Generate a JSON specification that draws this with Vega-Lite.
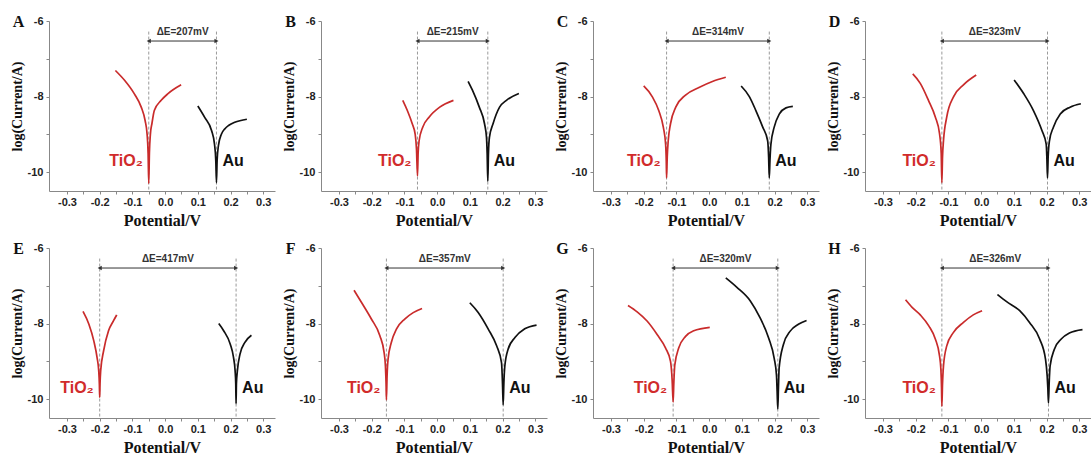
{
"$schema":"https://vega.github.io/schema/vega-lite/v6.json",
"padding":{"left":10,"top":14,"right":0,"bottom":0},
"data":{"values":[
{"k":"c","p":"A","m":"TiO2","E":-0.152,"L":-7.31},{"k":"c","p":"A","m":"TiO2","E":-0.124,"L":-7.57},{"k":"c","p":"A","m":"TiO2","E":-0.094,"L":-7.93},{"k":"c","p":"A","m":"TiO2","E":-0.073,"L":-8.28},{"k":"c","p":"A","m":"TiO2","E":-0.061,"L":-8.64},{"k":"c","p":"A","m":"TiO2","E":-0.055,"L":-9.0},{"k":"c","p":"A","m":"TiO2","E":-0.052,"L":-9.5},{"k":"c","p":"A","m":"TiO2","E":-0.05,"L":-10.3},{"k":"c","p":"A","m":"TiO2","E":-0.048,"L":-9.5},{"k":"c","p":"A","m":"TiO2","E":-0.045,"L":-9.0},{"k":"c","p":"A","m":"TiO2","E":-0.04,"L":-8.7},{"k":"c","p":"A","m":"TiO2","E":-0.033,"L":-8.37},{"k":"c","p":"A","m":"TiO2","E":-0.012,"L":-8.1},{"k":"c","p":"A","m":"TiO2","E":0.008,"L":-7.93},{"k":"c","p":"A","m":"TiO2","E":0.049,"L":-7.69},
{"k":"c","p":"A","m":"Au","E":0.1,"L":-8.25},{"k":"c","p":"A","m":"Au","E":0.121,"L":-8.55},{"k":"c","p":"A","m":"Au","E":0.142,"L":-8.9},{"k":"c","p":"A","m":"Au","E":0.151,"L":-9.26},{"k":"c","p":"A","m":"Au","E":0.155,"L":-9.7},{"k":"c","p":"A","m":"Au","E":0.157,"L":-10.28},{"k":"c","p":"A","m":"Au","E":0.159,"L":-9.7},{"k":"c","p":"A","m":"Au","E":0.163,"L":-9.3},{"k":"c","p":"A","m":"Au","E":0.172,"L":-9.0},{"k":"c","p":"A","m":"Au","E":0.183,"L":-8.85},{"k":"c","p":"A","m":"Au","E":0.195,"L":-8.76},{"k":"c","p":"A","m":"Au","E":0.213,"L":-8.68},{"k":"c","p":"A","m":"Au","E":0.25,"L":-8.6},
{"k":"c","p":"B","m":"TiO2","E":-0.105,"L":-8.1},{"k":"c","p":"B","m":"TiO2","E":-0.091,"L":-8.37},{"k":"c","p":"B","m":"TiO2","E":-0.076,"L":-8.72},{"k":"c","p":"B","m":"TiO2","E":-0.067,"L":-9.0},{"k":"c","p":"B","m":"TiO2","E":-0.063,"L":-9.4},{"k":"c","p":"B","m":"TiO2","E":-0.06,"L":-10.1},{"k":"c","p":"B","m":"TiO2","E":-0.058,"L":-9.5},{"k":"c","p":"B","m":"TiO2","E":-0.055,"L":-9.17},{"k":"c","p":"B","m":"TiO2","E":-0.044,"L":-8.81},{"k":"c","p":"B","m":"TiO2","E":-0.024,"L":-8.54},{"k":"c","p":"B","m":"TiO2","E":0.008,"L":-8.28},{"k":"c","p":"B","m":"TiO2","E":0.05,"L":-8.1},
{"k":"c","p":"B","m":"Au","E":0.095,"L":-7.6},{"k":"c","p":"B","m":"Au","E":0.108,"L":-7.83},{"k":"c","p":"B","m":"Au","E":0.129,"L":-8.28},{"k":"c","p":"B","m":"Au","E":0.145,"L":-8.72},{"k":"c","p":"B","m":"Au","E":0.151,"L":-9.08},{"k":"c","p":"B","m":"Au","E":0.153,"L":-9.5},{"k":"c","p":"B","m":"Au","E":0.155,"L":-10.24},{"k":"c","p":"B","m":"Au","E":0.157,"L":-9.5},{"k":"c","p":"B","m":"Au","E":0.16,"L":-9.08},{"k":"c","p":"B","m":"Au","E":0.171,"L":-8.72},{"k":"c","p":"B","m":"Au","E":0.191,"L":-8.28},{"k":"c","p":"B","m":"Au","E":0.212,"L":-8.1},{"k":"c","p":"B","m":"Au","E":0.25,"L":-7.92},
{"k":"c","p":"C","m":"TiO2","E":-0.2,"L":-7.72},{"k":"c","p":"C","m":"TiO2","E":-0.174,"L":-8.0},{"k":"c","p":"C","m":"TiO2","E":-0.154,"L":-8.37},{"k":"c","p":"C","m":"TiO2","E":-0.14,"L":-8.81},{"k":"c","p":"C","m":"TiO2","E":-0.133,"L":-9.26},{"k":"c","p":"C","m":"TiO2","E":-0.131,"L":-9.7},{"k":"c","p":"C","m":"TiO2","E":-0.13,"L":-10.15},{"k":"c","p":"C","m":"TiO2","E":-0.128,"L":-9.6},{"k":"c","p":"C","m":"TiO2","E":-0.125,"L":-9.17},{"k":"c","p":"C","m":"TiO2","E":-0.118,"L":-8.72},{"k":"c","p":"C","m":"TiO2","E":-0.102,"L":-8.28},{"k":"c","p":"C","m":"TiO2","E":-0.072,"L":-7.96},{"k":"c","p":"C","m":"TiO2","E":-0.031,"L":-7.76},{"k":"c","p":"C","m":"TiO2","E":0.01,"L":-7.6},{"k":"c","p":"C","m":"TiO2","E":0.051,"L":-7.49},
{"k":"c","p":"C","m":"Au","E":0.098,"L":-7.72},{"k":"c","p":"C","m":"Au","E":0.123,"L":-8.0},{"k":"c","p":"C","m":"Au","E":0.143,"L":-8.37},{"k":"c","p":"C","m":"Au","E":0.164,"L":-8.81},{"k":"c","p":"C","m":"Au","E":0.179,"L":-9.17},{"k":"c","p":"C","m":"Au","E":0.182,"L":-9.6},{"k":"c","p":"C","m":"Au","E":0.184,"L":-10.15},{"k":"c","p":"C","m":"Au","E":0.186,"L":-9.7},{"k":"c","p":"C","m":"Au","E":0.189,"L":-9.26},{"k":"c","p":"C","m":"Au","E":0.199,"L":-8.81},{"k":"c","p":"C","m":"Au","E":0.215,"L":-8.46},{"k":"c","p":"C","m":"Au","E":0.235,"L":-8.3},{"k":"c","p":"C","m":"Au","E":0.256,"L":-8.26},
{"k":"c","p":"D","m":"TiO2","E":-0.209,"L":-7.4},{"k":"c","p":"D","m":"TiO2","E":-0.186,"L":-7.65},{"k":"c","p":"D","m":"TiO2","E":-0.161,"L":-8.1},{"k":"c","p":"D","m":"TiO2","E":-0.14,"L":-8.54},{"k":"c","p":"D","m":"TiO2","E":-0.127,"L":-8.99},{"k":"c","p":"D","m":"TiO2","E":-0.122,"L":-9.5},{"k":"c","p":"D","m":"TiO2","E":-0.12,"L":-10.28},{"k":"c","p":"D","m":"TiO2","E":-0.118,"L":-9.6},{"k":"c","p":"D","m":"TiO2","E":-0.115,"L":-9.17},{"k":"c","p":"D","m":"TiO2","E":-0.105,"L":-8.54},{"k":"c","p":"D","m":"TiO2","E":-0.084,"L":-8.0},{"k":"c","p":"D","m":"TiO2","E":-0.054,"L":-7.69},{"k":"c","p":"D","m":"TiO2","E":-0.015,"L":-7.43},
{"k":"c","p":"D","m":"Au","E":0.101,"L":-7.56},{"k":"c","p":"D","m":"Au","E":0.13,"L":-7.92},{"k":"c","p":"D","m":"Au","E":0.16,"L":-8.37},{"k":"c","p":"D","m":"Au","E":0.186,"L":-8.9},{"k":"c","p":"D","m":"Au","E":0.199,"L":-9.26},{"k":"c","p":"D","m":"Au","E":0.201,"L":-9.6},{"k":"c","p":"D","m":"Au","E":0.203,"L":-10.15},{"k":"c","p":"D","m":"Au","E":0.205,"L":-9.6},{"k":"c","p":"D","m":"Au","E":0.209,"L":-9.17},{"k":"c","p":"D","m":"Au","E":0.221,"L":-8.81},{"k":"c","p":"D","m":"Au","E":0.242,"L":-8.46},{"k":"c","p":"D","m":"Au","E":0.272,"L":-8.28},{"k":"c","p":"D","m":"Au","E":0.305,"L":-8.19},
{"k":"c","p":"E","m":"TiO2","E":-0.251,"L":-7.68},{"k":"c","p":"E","m":"TiO2","E":-0.233,"L":-8.02},{"k":"c","p":"E","m":"TiO2","E":-0.218,"L":-8.46},{"k":"c","p":"E","m":"TiO2","E":-0.208,"L":-8.9},{"k":"c","p":"E","m":"TiO2","E":-0.203,"L":-9.25},{"k":"c","p":"E","m":"TiO2","E":-0.201,"L":-9.6},{"k":"c","p":"E","m":"TiO2","E":-0.2,"L":-9.95},{"k":"c","p":"E","m":"TiO2","E":-0.199,"L":-9.6},{"k":"c","p":"E","m":"TiO2","E":-0.197,"L":-9.25},{"k":"c","p":"E","m":"TiO2","E":-0.188,"L":-8.72},{"k":"c","p":"E","m":"TiO2","E":-0.173,"L":-8.19},{"k":"c","p":"E","m":"TiO2","E":-0.158,"L":-7.93},{"k":"c","p":"E","m":"TiO2","E":-0.148,"L":-7.77},
{"k":"c","p":"E","m":"Au","E":0.164,"L":-8.0},{"k":"c","p":"E","m":"Au","E":0.179,"L":-8.19},{"k":"c","p":"E","m":"Au","E":0.199,"L":-8.54},{"k":"c","p":"E","m":"Au","E":0.209,"L":-8.89},{"k":"c","p":"E","m":"Au","E":0.214,"L":-9.25},{"k":"c","p":"E","m":"Au","E":0.216,"L":-9.6},{"k":"c","p":"E","m":"Au","E":0.217,"L":-10.12},{"k":"c","p":"E","m":"Au","E":0.218,"L":-9.6},{"k":"c","p":"E","m":"Au","E":0.221,"L":-9.25},{"k":"c","p":"E","m":"Au","E":0.229,"L":-8.81},{"k":"c","p":"E","m":"Au","E":0.244,"L":-8.5},{"k":"c","p":"E","m":"Au","E":0.264,"L":-8.31},
{"k":"c","p":"F","m":"TiO2","E":-0.254,"L":-7.12},{"k":"c","p":"F","m":"TiO2","E":-0.232,"L":-7.43},{"k":"c","p":"F","m":"TiO2","E":-0.201,"L":-7.88},{"k":"c","p":"F","m":"TiO2","E":-0.175,"L":-8.32},{"k":"c","p":"F","m":"TiO2","E":-0.162,"L":-8.77},{"k":"c","p":"F","m":"TiO2","E":-0.158,"L":-9.13},{"k":"c","p":"F","m":"TiO2","E":-0.156,"L":-9.6},{"k":"c","p":"F","m":"TiO2","E":-0.155,"L":-10.02},{"k":"c","p":"F","m":"TiO2","E":-0.153,"L":-9.4},{"k":"c","p":"F","m":"TiO2","E":-0.15,"L":-8.95},{"k":"c","p":"F","m":"TiO2","E":-0.14,"L":-8.5},{"k":"c","p":"F","m":"TiO2","E":-0.124,"L":-8.14},{"k":"c","p":"F","m":"TiO2","E":-0.099,"L":-7.88},{"k":"c","p":"F","m":"TiO2","E":-0.073,"L":-7.71},{"k":"c","p":"F","m":"TiO2","E":-0.046,"L":-7.6},
{"k":"c","p":"F","m":"Au","E":0.1,"L":-7.45},{"k":"c","p":"F","m":"Au","E":0.125,"L":-7.7},{"k":"c","p":"F","m":"Au","E":0.156,"L":-8.14},{"k":"c","p":"F","m":"Au","E":0.182,"L":-8.59},{"k":"c","p":"F","m":"Au","E":0.197,"L":-9.04},{"k":"c","p":"F","m":"Au","E":0.2,"L":-9.6},{"k":"c","p":"F","m":"Au","E":0.202,"L":-10.15},{"k":"c","p":"F","m":"Au","E":0.204,"L":-9.6},{"k":"c","p":"F","m":"Au","E":0.207,"L":-9.13},{"k":"c","p":"F","m":"Au","E":0.217,"L":-8.68},{"k":"c","p":"F","m":"Au","E":0.238,"L":-8.37},{"k":"c","p":"F","m":"Au","E":0.268,"L":-8.14},{"k":"c","p":"F","m":"Au","E":0.304,"L":-8.04},
{"k":"c","p":"G","m":"TiO2","E":-0.248,"L":-7.52},{"k":"c","p":"G","m":"TiO2","E":-0.22,"L":-7.69},{"k":"c","p":"G","m":"TiO2","E":-0.189,"L":-7.94},{"k":"c","p":"G","m":"TiO2","E":-0.159,"L":-8.29},{"k":"c","p":"G","m":"TiO2","E":-0.133,"L":-8.65},{"k":"c","p":"G","m":"TiO2","E":-0.118,"L":-9.0},{"k":"c","p":"G","m":"TiO2","E":-0.113,"L":-9.5},{"k":"c","p":"G","m":"TiO2","E":-0.11,"L":-10.08},{"k":"c","p":"G","m":"TiO2","E":-0.108,"L":-9.6},{"k":"c","p":"G","m":"TiO2","E":-0.105,"L":-9.1},{"k":"c","p":"G","m":"TiO2","E":-0.093,"L":-8.65},{"k":"c","p":"G","m":"TiO2","E":-0.072,"L":-8.34},{"k":"c","p":"G","m":"TiO2","E":-0.047,"L":-8.19},{"k":"c","p":"G","m":"TiO2","E":0.002,"L":-8.1},
{"k":"c","p":"G","m":"Au","E":0.051,"L":-6.79},{"k":"c","p":"G","m":"Au","E":0.085,"L":-7.04},{"k":"c","p":"G","m":"Au","E":0.126,"L":-7.4},{"k":"c","p":"G","m":"Au","E":0.156,"L":-7.85},{"k":"c","p":"G","m":"Au","E":0.182,"L":-8.38},{"k":"c","p":"G","m":"Au","E":0.199,"L":-8.92},{"k":"c","p":"G","m":"Au","E":0.206,"L":-9.37},{"k":"c","p":"G","m":"Au","E":0.208,"L":-9.8},{"k":"c","p":"G","m":"Au","E":0.21,"L":-10.26},{"k":"c","p":"G","m":"Au","E":0.212,"L":-9.7},{"k":"c","p":"G","m":"Au","E":0.214,"L":-9.19},{"k":"c","p":"G","m":"Au","E":0.227,"L":-8.56},{"k":"c","p":"G","m":"Au","E":0.248,"L":-8.2},{"k":"c","p":"G","m":"Au","E":0.273,"L":-8.02},{"k":"c","p":"G","m":"Au","E":0.298,"L":-7.92},
{"k":"c","p":"H","m":"TiO2","E":-0.231,"L":-7.37},{"k":"c","p":"H","m":"TiO2","E":-0.211,"L":-7.57},{"k":"c","p":"H","m":"TiO2","E":-0.186,"L":-7.77},{"k":"c","p":"H","m":"TiO2","E":-0.16,"L":-8.06},{"k":"c","p":"H","m":"TiO2","E":-0.14,"L":-8.41},{"k":"c","p":"H","m":"TiO2","E":-0.127,"L":-8.86},{"k":"c","p":"H","m":"TiO2","E":-0.123,"L":-9.21},{"k":"c","p":"H","m":"TiO2","E":-0.121,"L":-9.7},{"k":"c","p":"H","m":"TiO2","E":-0.12,"L":-10.19},{"k":"c","p":"H","m":"TiO2","E":-0.118,"L":-9.6},{"k":"c","p":"H","m":"TiO2","E":-0.115,"L":-9.12},{"k":"c","p":"H","m":"TiO2","E":-0.105,"L":-8.59},{"k":"c","p":"H","m":"TiO2","E":-0.085,"L":-8.24},{"k":"c","p":"H","m":"TiO2","E":-0.054,"L":-7.97},{"k":"c","p":"H","m":"TiO2","E":-0.024,"L":-7.77},{"k":"c","p":"H","m":"TiO2","E":0.003,"L":-7.66},
{"k":"c","p":"H","m":"Au","E":0.05,"L":-7.23},{"k":"c","p":"H","m":"Au","E":0.078,"L":-7.42},{"k":"c","p":"H","m":"Au","E":0.118,"L":-7.66},{"k":"c","p":"H","m":"Au","E":0.148,"L":-7.97},{"k":"c","p":"H","m":"Au","E":0.179,"L":-8.41},{"k":"c","p":"H","m":"Au","E":0.197,"L":-8.95},{"k":"c","p":"H","m":"Au","E":0.202,"L":-9.39},{"k":"c","p":"H","m":"Au","E":0.204,"L":-9.7},{"k":"c","p":"H","m":"Au","E":0.206,"L":-10.1},{"k":"c","p":"H","m":"Au","E":0.208,"L":-9.6},{"k":"c","p":"H","m":"Au","E":0.211,"L":-9.12},{"k":"c","p":"H","m":"Au","E":0.224,"L":-8.68},{"k":"c","p":"H","m":"Au","E":0.245,"L":-8.41},{"k":"c","p":"H","m":"Au","E":0.27,"L":-8.25},{"k":"c","p":"H","m":"Au","E":0.31,"L":-8.16},
{"k":"e","p":"A","m":"TiO2","E":-0.05,"t":"TiO₂","d":"ΔE=207mV"},{"k":"e","p":"A","m":"Au","E":0.157,"t":"Au","d":"ΔE=207mV"},
{"k":"e","p":"B","m":"TiO2","E":-0.06,"t":"TiO₂","d":"ΔE=215mV"},{"k":"e","p":"B","m":"Au","E":0.155,"t":"Au","d":"ΔE=215mV"},
{"k":"e","p":"C","m":"TiO2","E":-0.13,"t":"TiO₂","d":"ΔE=314mV"},{"k":"e","p":"C","m":"Au","E":0.184,"t":"Au","d":"ΔE=314mV"},
{"k":"e","p":"D","m":"TiO2","E":-0.12,"t":"TiO₂","d":"ΔE=323mV"},{"k":"e","p":"D","m":"Au","E":0.203,"t":"Au","d":"ΔE=323mV"},
{"k":"e","p":"E","m":"TiO2","E":-0.2,"t":"TiO₂","d":"ΔE=417mV"},{"k":"e","p":"E","m":"Au","E":0.217,"t":"Au","d":"ΔE=417mV"},
{"k":"e","p":"F","m":"TiO2","E":-0.155,"t":"TiO₂","d":"ΔE=357mV"},{"k":"e","p":"F","m":"Au","E":0.202,"t":"Au","d":"ΔE=357mV"},
{"k":"e","p":"G","m":"TiO2","E":-0.11,"t":"TiO₂","d":"ΔE=320mV"},{"k":"e","p":"G","m":"Au","E":0.21,"t":"Au","d":"ΔE=320mV"},
{"k":"e","p":"H","m":"TiO2","E":-0.12,"t":"TiO₂","d":"ΔE=326mV"},{"k":"e","p":"H","m":"Au","E":0.206,"t":"Au","d":"ΔE=326mV"}
]},
"columns":4,
"bounds":"flush",
"spacing":{"row":57,"column":46},
"concat":[
{"width":226,"height":170,"transform":[{"filter":"datum.p=='A'"}],"layer":[
{"transform":[{"filter":"datum.k=='e'"}],"mark":{"type":"rule","color":"#9a9a9a","strokeDash":[3,2],"strokeWidth":1},"encoding":{"x":{"field":"E","type":"quantitative","title":"Potential/V","scale":{"domain":[-0.355,0.336],"nice":false,"zero":false},"axis":{"values":[-0.3,-0.25,-0.2,-0.15,-0.1,-0.05,0,0.05,0.1,0.15,0.2,0.25,0.3],"tickCount":30,"labelOverlap":false,"labelExpr":"abs(datum.value*10 - round(datum.value*10)) < 0.01 ? replace(format(datum.value, '.1f'), '\u2212', '-') : ''"}},"y":{"datum":-6.28,"type":"quantitative","title":"log(Current/A)","scale":{"domain":[-10.5,-6],"nice":false,"zero":false},"axis":{"values":[-10,-9,-8,-7,-6],"tickCount":30,"labelOverlap":false,"labelExpr":"datum.value % 2 == 0 ? '' + datum.value : ''"}},"y2":{"datum":-10.5}}},
{"transform":[{"filter":"datum.k=='c'"}],"mark":{"type":"line","strokeWidth":1.7,"interpolate":"monotone"},"encoding":{"x":{"field":"E","type":"quantitative","title":"Potential/V"},"y":{"field":"L","type":"quantitative","title":"log(Current/A)"},"color":{"field":"m","type":"nominal","scale":{"domain":["TiO2","Au"],"range":["#c92b2b","#111111"]},"legend":null}}},
{"transform":[{"filter":"datum.k=='e'"}],"mark":{"type":"rule","color":"#333333","strokeWidth":1},"encoding":{"x":{"aggregate":"min","field":"E","type":"quantitative","title":"Potential/V"},"x2":{"aggregate":"max","field":"E"},"y":{"datum":-6.53,"type":"quantitative"}}},
{"transform":[{"filter":"datum.k=='e'"}],"mark":{"type":"point","filled":true,"size":22,"color":"#333333","opacity":1},"encoding":{"x":{"field":"E","type":"quantitative","title":"Potential/V"},"y":{"datum":-6.53,"type":"quantitative"},"shape":{"field":"m","type":"nominal","scale":{"domain":["TiO2","Au"],"range":["triangle-left","triangle-right"]},"legend":null}}},
{"transform":[{"filter":"datum.k=='e'"}],"mark":{"type":"text","font":"Liberation Sans","fontWeight":"bold","fontSize":10,"color":"#333333","baseline":"middle","dy":-9},"encoding":{"x":{"aggregate":"mean","field":"E","type":"quantitative","title":"Potential/V"},"y":{"datum":-6.53,"type":"quantitative"},"text":{"field":"d","type":"nominal"}}},
{"transform":[{"filter":"datum.k=='e' && datum.m=='TiO2'"}],"mark":{"type":"text","font":"Liberation Sans","fontWeight":"bold","fontSize":16,"color":"#d12b2b","align":"right","baseline":"middle","dx":-6},"encoding":{"x":{"field":"E","type":"quantitative","title":"Potential/V"},"y":{"datum":-9.7,"type":"quantitative"},"text":{"field":"t","type":"nominal"}}},
{"transform":[{"filter":"datum.k=='e' && datum.m=='Au'"}],"mark":{"type":"text","font":"Liberation Sans","fontWeight":"bold","fontSize":16,"color":"#111111","align":"left","baseline":"middle","dx":6},"encoding":{"x":{"field":"E","type":"quantitative","title":"Potential/V"},"y":{"datum":-9.7,"type":"quantitative"},"text":{"field":"t","type":"nominal"}}},
{"transform":[{"filter":"datum.k=='e' && datum.m=='TiO2'"}],"mark":{"type":"text","font":"Liberation Serif","fontWeight":"bold","fontSize":16,"color":"#111111","align":"center","baseline":"middle"},"encoding":{"x":{"datum":-0.448,"type":"quantitative"},"y":{"datum":-6.03,"type":"quantitative"},"text":{"field":"p","type":"nominal"}}}
]},
{"width":226,"height":170,"transform":[{"filter":"datum.p=='B'"}],"layer":[
{"transform":[{"filter":"datum.k=='e'"}],"mark":{"type":"rule","color":"#9a9a9a","strokeDash":[3,2],"strokeWidth":1},"encoding":{"x":{"field":"E","type":"quantitative","title":"Potential/V","scale":{"domain":[-0.355,0.336],"nice":false,"zero":false},"axis":{"values":[-0.3,-0.25,-0.2,-0.15,-0.1,-0.05,0,0.05,0.1,0.15,0.2,0.25,0.3],"tickCount":30,"labelOverlap":false,"labelExpr":"abs(datum.value*10 - round(datum.value*10)) < 0.01 ? replace(format(datum.value, '.1f'), '\u2212', '-') : ''"}},"y":{"datum":-6.28,"type":"quantitative","title":"log(Current/A)","scale":{"domain":[-10.5,-6],"nice":false,"zero":false},"axis":{"values":[-10,-9,-8,-7,-6],"tickCount":30,"labelOverlap":false,"labelExpr":"datum.value % 2 == 0 ? '' + datum.value : ''"}},"y2":{"datum":-10.5}}},
{"transform":[{"filter":"datum.k=='c'"}],"mark":{"type":"line","strokeWidth":1.7,"interpolate":"monotone"},"encoding":{"x":{"field":"E","type":"quantitative","title":"Potential/V"},"y":{"field":"L","type":"quantitative","title":"log(Current/A)"},"color":{"field":"m","type":"nominal","scale":{"domain":["TiO2","Au"],"range":["#c92b2b","#111111"]},"legend":null}}},
{"transform":[{"filter":"datum.k=='e'"}],"mark":{"type":"rule","color":"#333333","strokeWidth":1},"encoding":{"x":{"aggregate":"min","field":"E","type":"quantitative","title":"Potential/V"},"x2":{"aggregate":"max","field":"E"},"y":{"datum":-6.53,"type":"quantitative"}}},
{"transform":[{"filter":"datum.k=='e'"}],"mark":{"type":"point","filled":true,"size":22,"color":"#333333","opacity":1},"encoding":{"x":{"field":"E","type":"quantitative","title":"Potential/V"},"y":{"datum":-6.53,"type":"quantitative"},"shape":{"field":"m","type":"nominal","scale":{"domain":["TiO2","Au"],"range":["triangle-left","triangle-right"]},"legend":null}}},
{"transform":[{"filter":"datum.k=='e'"}],"mark":{"type":"text","font":"Liberation Sans","fontWeight":"bold","fontSize":10,"color":"#333333","baseline":"middle","dy":-9},"encoding":{"x":{"aggregate":"mean","field":"E","type":"quantitative","title":"Potential/V"},"y":{"datum":-6.53,"type":"quantitative"},"text":{"field":"d","type":"nominal"}}},
{"transform":[{"filter":"datum.k=='e' && datum.m=='TiO2'"}],"mark":{"type":"text","font":"Liberation Sans","fontWeight":"bold","fontSize":16,"color":"#d12b2b","align":"right","baseline":"middle","dx":-6},"encoding":{"x":{"field":"E","type":"quantitative","title":"Potential/V"},"y":{"datum":-9.7,"type":"quantitative"},"text":{"field":"t","type":"nominal"}}},
{"transform":[{"filter":"datum.k=='e' && datum.m=='Au'"}],"mark":{"type":"text","font":"Liberation Sans","fontWeight":"bold","fontSize":16,"color":"#111111","align":"left","baseline":"middle","dx":6},"encoding":{"x":{"field":"E","type":"quantitative","title":"Potential/V"},"y":{"datum":-9.7,"type":"quantitative"},"text":{"field":"t","type":"nominal"}}},
{"transform":[{"filter":"datum.k=='e' && datum.m=='TiO2'"}],"mark":{"type":"text","font":"Liberation Serif","fontWeight":"bold","fontSize":16,"color":"#111111","align":"center","baseline":"middle"},"encoding":{"x":{"datum":-0.448,"type":"quantitative"},"y":{"datum":-6.03,"type":"quantitative"},"text":{"field":"p","type":"nominal"}}}
]},
{"width":226,"height":170,"transform":[{"filter":"datum.p=='C'"}],"layer":[
{"transform":[{"filter":"datum.k=='e'"}],"mark":{"type":"rule","color":"#9a9a9a","strokeDash":[3,2],"strokeWidth":1},"encoding":{"x":{"field":"E","type":"quantitative","title":"Potential/V","scale":{"domain":[-0.355,0.336],"nice":false,"zero":false},"axis":{"values":[-0.3,-0.25,-0.2,-0.15,-0.1,-0.05,0,0.05,0.1,0.15,0.2,0.25,0.3],"tickCount":30,"labelOverlap":false,"labelExpr":"abs(datum.value*10 - round(datum.value*10)) < 0.01 ? replace(format(datum.value, '.1f'), '\u2212', '-') : ''"}},"y":{"datum":-6.28,"type":"quantitative","title":"log(Current/A)","scale":{"domain":[-10.5,-6],"nice":false,"zero":false},"axis":{"values":[-10,-9,-8,-7,-6],"tickCount":30,"labelOverlap":false,"labelExpr":"datum.value % 2 == 0 ? '' + datum.value : ''"}},"y2":{"datum":-10.5}}},
{"transform":[{"filter":"datum.k=='c'"}],"mark":{"type":"line","strokeWidth":1.7,"interpolate":"monotone"},"encoding":{"x":{"field":"E","type":"quantitative","title":"Potential/V"},"y":{"field":"L","type":"quantitative","title":"log(Current/A)"},"color":{"field":"m","type":"nominal","scale":{"domain":["TiO2","Au"],"range":["#c92b2b","#111111"]},"legend":null}}},
{"transform":[{"filter":"datum.k=='e'"}],"mark":{"type":"rule","color":"#333333","strokeWidth":1},"encoding":{"x":{"aggregate":"min","field":"E","type":"quantitative","title":"Potential/V"},"x2":{"aggregate":"max","field":"E"},"y":{"datum":-6.53,"type":"quantitative"}}},
{"transform":[{"filter":"datum.k=='e'"}],"mark":{"type":"point","filled":true,"size":22,"color":"#333333","opacity":1},"encoding":{"x":{"field":"E","type":"quantitative","title":"Potential/V"},"y":{"datum":-6.53,"type":"quantitative"},"shape":{"field":"m","type":"nominal","scale":{"domain":["TiO2","Au"],"range":["triangle-left","triangle-right"]},"legend":null}}},
{"transform":[{"filter":"datum.k=='e'"}],"mark":{"type":"text","font":"Liberation Sans","fontWeight":"bold","fontSize":10,"color":"#333333","baseline":"middle","dy":-9},"encoding":{"x":{"aggregate":"mean","field":"E","type":"quantitative","title":"Potential/V"},"y":{"datum":-6.53,"type":"quantitative"},"text":{"field":"d","type":"nominal"}}},
{"transform":[{"filter":"datum.k=='e' && datum.m=='TiO2'"}],"mark":{"type":"text","font":"Liberation Sans","fontWeight":"bold","fontSize":16,"color":"#d12b2b","align":"right","baseline":"middle","dx":-6},"encoding":{"x":{"field":"E","type":"quantitative","title":"Potential/V"},"y":{"datum":-9.7,"type":"quantitative"},"text":{"field":"t","type":"nominal"}}},
{"transform":[{"filter":"datum.k=='e' && datum.m=='Au'"}],"mark":{"type":"text","font":"Liberation Sans","fontWeight":"bold","fontSize":16,"color":"#111111","align":"left","baseline":"middle","dx":6},"encoding":{"x":{"field":"E","type":"quantitative","title":"Potential/V"},"y":{"datum":-9.7,"type":"quantitative"},"text":{"field":"t","type":"nominal"}}},
{"transform":[{"filter":"datum.k=='e' && datum.m=='TiO2'"}],"mark":{"type":"text","font":"Liberation Serif","fontWeight":"bold","fontSize":16,"color":"#111111","align":"center","baseline":"middle"},"encoding":{"x":{"datum":-0.448,"type":"quantitative"},"y":{"datum":-6.03,"type":"quantitative"},"text":{"field":"p","type":"nominal"}}}
]},
{"width":226,"height":170,"transform":[{"filter":"datum.p=='D'"}],"layer":[
{"transform":[{"filter":"datum.k=='e'"}],"mark":{"type":"rule","color":"#9a9a9a","strokeDash":[3,2],"strokeWidth":1},"encoding":{"x":{"field":"E","type":"quantitative","title":"Potential/V","scale":{"domain":[-0.355,0.336],"nice":false,"zero":false},"axis":{"values":[-0.3,-0.25,-0.2,-0.15,-0.1,-0.05,0,0.05,0.1,0.15,0.2,0.25,0.3],"tickCount":30,"labelOverlap":false,"labelExpr":"abs(datum.value*10 - round(datum.value*10)) < 0.01 ? replace(format(datum.value, '.1f'), '\u2212', '-') : ''"}},"y":{"datum":-6.28,"type":"quantitative","title":"log(Current/A)","scale":{"domain":[-10.5,-6],"nice":false,"zero":false},"axis":{"values":[-10,-9,-8,-7,-6],"tickCount":30,"labelOverlap":false,"labelExpr":"datum.value % 2 == 0 ? '' + datum.value : ''"}},"y2":{"datum":-10.5}}},
{"transform":[{"filter":"datum.k=='c'"}],"mark":{"type":"line","strokeWidth":1.7,"interpolate":"monotone"},"encoding":{"x":{"field":"E","type":"quantitative","title":"Potential/V"},"y":{"field":"L","type":"quantitative","title":"log(Current/A)"},"color":{"field":"m","type":"nominal","scale":{"domain":["TiO2","Au"],"range":["#c92b2b","#111111"]},"legend":null}}},
{"transform":[{"filter":"datum.k=='e'"}],"mark":{"type":"rule","color":"#333333","strokeWidth":1},"encoding":{"x":{"aggregate":"min","field":"E","type":"quantitative","title":"Potential/V"},"x2":{"aggregate":"max","field":"E"},"y":{"datum":-6.53,"type":"quantitative"}}},
{"transform":[{"filter":"datum.k=='e'"}],"mark":{"type":"point","filled":true,"size":22,"color":"#333333","opacity":1},"encoding":{"x":{"field":"E","type":"quantitative","title":"Potential/V"},"y":{"datum":-6.53,"type":"quantitative"},"shape":{"field":"m","type":"nominal","scale":{"domain":["TiO2","Au"],"range":["triangle-left","triangle-right"]},"legend":null}}},
{"transform":[{"filter":"datum.k=='e'"}],"mark":{"type":"text","font":"Liberation Sans","fontWeight":"bold","fontSize":10,"color":"#333333","baseline":"middle","dy":-9},"encoding":{"x":{"aggregate":"mean","field":"E","type":"quantitative","title":"Potential/V"},"y":{"datum":-6.53,"type":"quantitative"},"text":{"field":"d","type":"nominal"}}},
{"transform":[{"filter":"datum.k=='e' && datum.m=='TiO2'"}],"mark":{"type":"text","font":"Liberation Sans","fontWeight":"bold","fontSize":16,"color":"#d12b2b","align":"right","baseline":"middle","dx":-6},"encoding":{"x":{"field":"E","type":"quantitative","title":"Potential/V"},"y":{"datum":-9.7,"type":"quantitative"},"text":{"field":"t","type":"nominal"}}},
{"transform":[{"filter":"datum.k=='e' && datum.m=='Au'"}],"mark":{"type":"text","font":"Liberation Sans","fontWeight":"bold","fontSize":16,"color":"#111111","align":"left","baseline":"middle","dx":6},"encoding":{"x":{"field":"E","type":"quantitative","title":"Potential/V"},"y":{"datum":-9.7,"type":"quantitative"},"text":{"field":"t","type":"nominal"}}},
{"transform":[{"filter":"datum.k=='e' && datum.m=='TiO2'"}],"mark":{"type":"text","font":"Liberation Serif","fontWeight":"bold","fontSize":16,"color":"#111111","align":"center","baseline":"middle"},"encoding":{"x":{"datum":-0.448,"type":"quantitative"},"y":{"datum":-6.03,"type":"quantitative"},"text":{"field":"p","type":"nominal"}}}
]},
{"width":226,"height":170,"transform":[{"filter":"datum.p=='E'"}],"layer":[
{"transform":[{"filter":"datum.k=='e'"}],"mark":{"type":"rule","color":"#9a9a9a","strokeDash":[3,2],"strokeWidth":1},"encoding":{"x":{"field":"E","type":"quantitative","title":"Potential/V","scale":{"domain":[-0.355,0.336],"nice":false,"zero":false},"axis":{"values":[-0.3,-0.25,-0.2,-0.15,-0.1,-0.05,0,0.05,0.1,0.15,0.2,0.25,0.3],"tickCount":30,"labelOverlap":false,"labelExpr":"abs(datum.value*10 - round(datum.value*10)) < 0.01 ? replace(format(datum.value, '.1f'), '\u2212', '-') : ''"}},"y":{"datum":-6.28,"type":"quantitative","title":"log(Current/A)","scale":{"domain":[-10.5,-6],"nice":false,"zero":false},"axis":{"values":[-10,-9,-8,-7,-6],"tickCount":30,"labelOverlap":false,"labelExpr":"datum.value % 2 == 0 ? '' + datum.value : ''"}},"y2":{"datum":-10.5}}},
{"transform":[{"filter":"datum.k=='c'"}],"mark":{"type":"line","strokeWidth":1.7,"interpolate":"monotone"},"encoding":{"x":{"field":"E","type":"quantitative","title":"Potential/V"},"y":{"field":"L","type":"quantitative","title":"log(Current/A)"},"color":{"field":"m","type":"nominal","scale":{"domain":["TiO2","Au"],"range":["#c92b2b","#111111"]},"legend":null}}},
{"transform":[{"filter":"datum.k=='e'"}],"mark":{"type":"rule","color":"#333333","strokeWidth":1},"encoding":{"x":{"aggregate":"min","field":"E","type":"quantitative","title":"Potential/V"},"x2":{"aggregate":"max","field":"E"},"y":{"datum":-6.53,"type":"quantitative"}}},
{"transform":[{"filter":"datum.k=='e'"}],"mark":{"type":"point","filled":true,"size":22,"color":"#333333","opacity":1},"encoding":{"x":{"field":"E","type":"quantitative","title":"Potential/V"},"y":{"datum":-6.53,"type":"quantitative"},"shape":{"field":"m","type":"nominal","scale":{"domain":["TiO2","Au"],"range":["triangle-left","triangle-right"]},"legend":null}}},
{"transform":[{"filter":"datum.k=='e'"}],"mark":{"type":"text","font":"Liberation Sans","fontWeight":"bold","fontSize":10,"color":"#333333","baseline":"middle","dy":-9},"encoding":{"x":{"aggregate":"mean","field":"E","type":"quantitative","title":"Potential/V"},"y":{"datum":-6.53,"type":"quantitative"},"text":{"field":"d","type":"nominal"}}},
{"transform":[{"filter":"datum.k=='e' && datum.m=='TiO2'"}],"mark":{"type":"text","font":"Liberation Sans","fontWeight":"bold","fontSize":16,"color":"#d12b2b","align":"right","baseline":"middle","dx":-6},"encoding":{"x":{"field":"E","type":"quantitative","title":"Potential/V"},"y":{"datum":-9.7,"type":"quantitative"},"text":{"field":"t","type":"nominal"}}},
{"transform":[{"filter":"datum.k=='e' && datum.m=='Au'"}],"mark":{"type":"text","font":"Liberation Sans","fontWeight":"bold","fontSize":16,"color":"#111111","align":"left","baseline":"middle","dx":6},"encoding":{"x":{"field":"E","type":"quantitative","title":"Potential/V"},"y":{"datum":-9.7,"type":"quantitative"},"text":{"field":"t","type":"nominal"}}},
{"transform":[{"filter":"datum.k=='e' && datum.m=='TiO2'"}],"mark":{"type":"text","font":"Liberation Serif","fontWeight":"bold","fontSize":16,"color":"#111111","align":"center","baseline":"middle"},"encoding":{"x":{"datum":-0.448,"type":"quantitative"},"y":{"datum":-6.03,"type":"quantitative"},"text":{"field":"p","type":"nominal"}}}
]},
{"width":226,"height":170,"transform":[{"filter":"datum.p=='F'"}],"layer":[
{"transform":[{"filter":"datum.k=='e'"}],"mark":{"type":"rule","color":"#9a9a9a","strokeDash":[3,2],"strokeWidth":1},"encoding":{"x":{"field":"E","type":"quantitative","title":"Potential/V","scale":{"domain":[-0.355,0.336],"nice":false,"zero":false},"axis":{"values":[-0.3,-0.25,-0.2,-0.15,-0.1,-0.05,0,0.05,0.1,0.15,0.2,0.25,0.3],"tickCount":30,"labelOverlap":false,"labelExpr":"abs(datum.value*10 - round(datum.value*10)) < 0.01 ? replace(format(datum.value, '.1f'), '\u2212', '-') : ''"}},"y":{"datum":-6.28,"type":"quantitative","title":"log(Current/A)","scale":{"domain":[-10.5,-6],"nice":false,"zero":false},"axis":{"values":[-10,-9,-8,-7,-6],"tickCount":30,"labelOverlap":false,"labelExpr":"datum.value % 2 == 0 ? '' + datum.value : ''"}},"y2":{"datum":-10.5}}},
{"transform":[{"filter":"datum.k=='c'"}],"mark":{"type":"line","strokeWidth":1.7,"interpolate":"monotone"},"encoding":{"x":{"field":"E","type":"quantitative","title":"Potential/V"},"y":{"field":"L","type":"quantitative","title":"log(Current/A)"},"color":{"field":"m","type":"nominal","scale":{"domain":["TiO2","Au"],"range":["#c92b2b","#111111"]},"legend":null}}},
{"transform":[{"filter":"datum.k=='e'"}],"mark":{"type":"rule","color":"#333333","strokeWidth":1},"encoding":{"x":{"aggregate":"min","field":"E","type":"quantitative","title":"Potential/V"},"x2":{"aggregate":"max","field":"E"},"y":{"datum":-6.53,"type":"quantitative"}}},
{"transform":[{"filter":"datum.k=='e'"}],"mark":{"type":"point","filled":true,"size":22,"color":"#333333","opacity":1},"encoding":{"x":{"field":"E","type":"quantitative","title":"Potential/V"},"y":{"datum":-6.53,"type":"quantitative"},"shape":{"field":"m","type":"nominal","scale":{"domain":["TiO2","Au"],"range":["triangle-left","triangle-right"]},"legend":null}}},
{"transform":[{"filter":"datum.k=='e'"}],"mark":{"type":"text","font":"Liberation Sans","fontWeight":"bold","fontSize":10,"color":"#333333","baseline":"middle","dy":-9},"encoding":{"x":{"aggregate":"mean","field":"E","type":"quantitative","title":"Potential/V"},"y":{"datum":-6.53,"type":"quantitative"},"text":{"field":"d","type":"nominal"}}},
{"transform":[{"filter":"datum.k=='e' && datum.m=='TiO2'"}],"mark":{"type":"text","font":"Liberation Sans","fontWeight":"bold","fontSize":16,"color":"#d12b2b","align":"right","baseline":"middle","dx":-6},"encoding":{"x":{"field":"E","type":"quantitative","title":"Potential/V"},"y":{"datum":-9.7,"type":"quantitative"},"text":{"field":"t","type":"nominal"}}},
{"transform":[{"filter":"datum.k=='e' && datum.m=='Au'"}],"mark":{"type":"text","font":"Liberation Sans","fontWeight":"bold","fontSize":16,"color":"#111111","align":"left","baseline":"middle","dx":6},"encoding":{"x":{"field":"E","type":"quantitative","title":"Potential/V"},"y":{"datum":-9.7,"type":"quantitative"},"text":{"field":"t","type":"nominal"}}},
{"transform":[{"filter":"datum.k=='e' && datum.m=='TiO2'"}],"mark":{"type":"text","font":"Liberation Serif","fontWeight":"bold","fontSize":16,"color":"#111111","align":"center","baseline":"middle"},"encoding":{"x":{"datum":-0.448,"type":"quantitative"},"y":{"datum":-6.03,"type":"quantitative"},"text":{"field":"p","type":"nominal"}}}
]},
{"width":226,"height":170,"transform":[{"filter":"datum.p=='G'"}],"layer":[
{"transform":[{"filter":"datum.k=='e'"}],"mark":{"type":"rule","color":"#9a9a9a","strokeDash":[3,2],"strokeWidth":1},"encoding":{"x":{"field":"E","type":"quantitative","title":"Potential/V","scale":{"domain":[-0.355,0.336],"nice":false,"zero":false},"axis":{"values":[-0.3,-0.25,-0.2,-0.15,-0.1,-0.05,0,0.05,0.1,0.15,0.2,0.25,0.3],"tickCount":30,"labelOverlap":false,"labelExpr":"abs(datum.value*10 - round(datum.value*10)) < 0.01 ? replace(format(datum.value, '.1f'), '\u2212', '-') : ''"}},"y":{"datum":-6.28,"type":"quantitative","title":"log(Current/A)","scale":{"domain":[-10.5,-6],"nice":false,"zero":false},"axis":{"values":[-10,-9,-8,-7,-6],"tickCount":30,"labelOverlap":false,"labelExpr":"datum.value % 2 == 0 ? '' + datum.value : ''"}},"y2":{"datum":-10.5}}},
{"transform":[{"filter":"datum.k=='c'"}],"mark":{"type":"line","strokeWidth":1.7,"interpolate":"monotone"},"encoding":{"x":{"field":"E","type":"quantitative","title":"Potential/V"},"y":{"field":"L","type":"quantitative","title":"log(Current/A)"},"color":{"field":"m","type":"nominal","scale":{"domain":["TiO2","Au"],"range":["#c92b2b","#111111"]},"legend":null}}},
{"transform":[{"filter":"datum.k=='e'"}],"mark":{"type":"rule","color":"#333333","strokeWidth":1},"encoding":{"x":{"aggregate":"min","field":"E","type":"quantitative","title":"Potential/V"},"x2":{"aggregate":"max","field":"E"},"y":{"datum":-6.53,"type":"quantitative"}}},
{"transform":[{"filter":"datum.k=='e'"}],"mark":{"type":"point","filled":true,"size":22,"color":"#333333","opacity":1},"encoding":{"x":{"field":"E","type":"quantitative","title":"Potential/V"},"y":{"datum":-6.53,"type":"quantitative"},"shape":{"field":"m","type":"nominal","scale":{"domain":["TiO2","Au"],"range":["triangle-left","triangle-right"]},"legend":null}}},
{"transform":[{"filter":"datum.k=='e'"}],"mark":{"type":"text","font":"Liberation Sans","fontWeight":"bold","fontSize":10,"color":"#333333","baseline":"middle","dy":-9},"encoding":{"x":{"aggregate":"mean","field":"E","type":"quantitative","title":"Potential/V"},"y":{"datum":-6.53,"type":"quantitative"},"text":{"field":"d","type":"nominal"}}},
{"transform":[{"filter":"datum.k=='e' && datum.m=='TiO2'"}],"mark":{"type":"text","font":"Liberation Sans","fontWeight":"bold","fontSize":16,"color":"#d12b2b","align":"right","baseline":"middle","dx":-6},"encoding":{"x":{"field":"E","type":"quantitative","title":"Potential/V"},"y":{"datum":-9.7,"type":"quantitative"},"text":{"field":"t","type":"nominal"}}},
{"transform":[{"filter":"datum.k=='e' && datum.m=='Au'"}],"mark":{"type":"text","font":"Liberation Sans","fontWeight":"bold","fontSize":16,"color":"#111111","align":"left","baseline":"middle","dx":6},"encoding":{"x":{"field":"E","type":"quantitative","title":"Potential/V"},"y":{"datum":-9.7,"type":"quantitative"},"text":{"field":"t","type":"nominal"}}},
{"transform":[{"filter":"datum.k=='e' && datum.m=='TiO2'"}],"mark":{"type":"text","font":"Liberation Serif","fontWeight":"bold","fontSize":16,"color":"#111111","align":"center","baseline":"middle"},"encoding":{"x":{"datum":-0.448,"type":"quantitative"},"y":{"datum":-6.03,"type":"quantitative"},"text":{"field":"p","type":"nominal"}}}
]},
{"width":226,"height":170,"transform":[{"filter":"datum.p=='H'"}],"layer":[
{"transform":[{"filter":"datum.k=='e'"}],"mark":{"type":"rule","color":"#9a9a9a","strokeDash":[3,2],"strokeWidth":1},"encoding":{"x":{"field":"E","type":"quantitative","title":"Potential/V","scale":{"domain":[-0.355,0.336],"nice":false,"zero":false},"axis":{"values":[-0.3,-0.25,-0.2,-0.15,-0.1,-0.05,0,0.05,0.1,0.15,0.2,0.25,0.3],"tickCount":30,"labelOverlap":false,"labelExpr":"abs(datum.value*10 - round(datum.value*10)) < 0.01 ? replace(format(datum.value, '.1f'), '\u2212', '-') : ''"}},"y":{"datum":-6.28,"type":"quantitative","title":"log(Current/A)","scale":{"domain":[-10.5,-6],"nice":false,"zero":false},"axis":{"values":[-10,-9,-8,-7,-6],"tickCount":30,"labelOverlap":false,"labelExpr":"datum.value % 2 == 0 ? '' + datum.value : ''"}},"y2":{"datum":-10.5}}},
{"transform":[{"filter":"datum.k=='c'"}],"mark":{"type":"line","strokeWidth":1.7,"interpolate":"monotone"},"encoding":{"x":{"field":"E","type":"quantitative","title":"Potential/V"},"y":{"field":"L","type":"quantitative","title":"log(Current/A)"},"color":{"field":"m","type":"nominal","scale":{"domain":["TiO2","Au"],"range":["#c92b2b","#111111"]},"legend":null}}},
{"transform":[{"filter":"datum.k=='e'"}],"mark":{"type":"rule","color":"#333333","strokeWidth":1},"encoding":{"x":{"aggregate":"min","field":"E","type":"quantitative","title":"Potential/V"},"x2":{"aggregate":"max","field":"E"},"y":{"datum":-6.53,"type":"quantitative"}}},
{"transform":[{"filter":"datum.k=='e'"}],"mark":{"type":"point","filled":true,"size":22,"color":"#333333","opacity":1},"encoding":{"x":{"field":"E","type":"quantitative","title":"Potential/V"},"y":{"datum":-6.53,"type":"quantitative"},"shape":{"field":"m","type":"nominal","scale":{"domain":["TiO2","Au"],"range":["triangle-left","triangle-right"]},"legend":null}}},
{"transform":[{"filter":"datum.k=='e'"}],"mark":{"type":"text","font":"Liberation Sans","fontWeight":"bold","fontSize":10,"color":"#333333","baseline":"middle","dy":-9},"encoding":{"x":{"aggregate":"mean","field":"E","type":"quantitative","title":"Potential/V"},"y":{"datum":-6.53,"type":"quantitative"},"text":{"field":"d","type":"nominal"}}},
{"transform":[{"filter":"datum.k=='e' && datum.m=='TiO2'"}],"mark":{"type":"text","font":"Liberation Sans","fontWeight":"bold","fontSize":16,"color":"#d12b2b","align":"right","baseline":"middle","dx":-6},"encoding":{"x":{"field":"E","type":"quantitative","title":"Potential/V"},"y":{"datum":-9.7,"type":"quantitative"},"text":{"field":"t","type":"nominal"}}},
{"transform":[{"filter":"datum.k=='e' && datum.m=='Au'"}],"mark":{"type":"text","font":"Liberation Sans","fontWeight":"bold","fontSize":16,"color":"#111111","align":"left","baseline":"middle","dx":6},"encoding":{"x":{"field":"E","type":"quantitative","title":"Potential/V"},"y":{"datum":-9.7,"type":"quantitative"},"text":{"field":"t","type":"nominal"}}},
{"transform":[{"filter":"datum.k=='e' && datum.m=='TiO2'"}],"mark":{"type":"text","font":"Liberation Serif","fontWeight":"bold","fontSize":16,"color":"#111111","align":"center","baseline":"middle"},"encoding":{"x":{"datum":-0.448,"type":"quantitative"},"y":{"datum":-6.03,"type":"quantitative"},"text":{"field":"p","type":"nominal"}}}
]}
],
"config":{
 "view":{"stroke":null},
 "axis":{"grid":false,"labelOverlap":false,"domainColor":"#888888","tickColor":"#888888","tickSize":3,"labelFont":"Liberation Sans","labelFontWeight":"bold","labelFontSize":11,"labelColor":"#222222","titleFont":"Liberation Serif","titleFontWeight":"bold","titleColor":"#111111","labelPadding":2},
 "axisX":{"titleFontSize":16,"titlePadding":5},
 "axisY":{"titleFontSize":14,"titlePadding":3,"labelPadding":3}
}
}
